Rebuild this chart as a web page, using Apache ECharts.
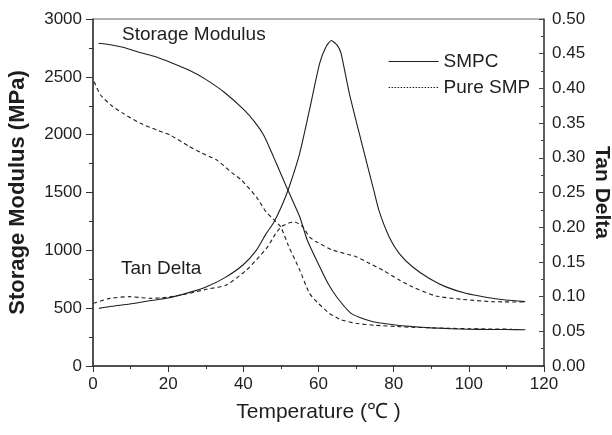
<!DOCTYPE html>
<html lang="en">
<head>
<meta charset="UTF-8">
<title></title>
<style>
    html, body { margin: 0; padding: 0; background: #fff; }
    #chart {
        width: 612px;
        height: 435px;
    }
</style>
</head>
<body>
<div id="chart"></div>
<script src="https://cdn.jsdelivr.net/npm/echarts@6/dist/echarts.min.js"></script>
<script>
    // temperatures (°C) and values
    var smpcModT = [1.5, 5, 8, 12, 16, 21, 26, 30, 35, 40, 43, 45.5, 48, 50, 52, 55, 57, 60, 62.5, 65, 68.5, 71, 74.5, 78, 81.5, 85, 90, 95, 100, 105, 110, 115];
    var smpcMod = [2790, 2775, 2755, 2715, 2680, 2620, 2550, 2478, 2365, 2220, 2110, 1990, 1810, 1660, 1510, 1290, 1090, 880, 715, 590, 460, 420, 383, 365, 350, 340, 330, 323, 318, 316, 315, 313];

    var pureModT = [0.3, 2, 5, 8, 12.5, 17, 20.5, 25.5, 29, 33, 37, 39.5, 43.5, 46, 48, 50, 52, 55, 57.6, 60, 62.9, 66, 70, 75, 81.5, 85, 90, 95, 100, 105, 111.5];
    var pureMod = [2458, 2343, 2250, 2184, 2100, 2040, 1997, 1900, 1840, 1780, 1670, 1608, 1460, 1334, 1270, 1200, 1040, 830, 628, 540, 455, 400, 369, 352, 340, 335, 330, 326, 322, 320, 318];

    var smpcTanT = [1.6, 5, 9.8, 15, 19.6, 25, 30.2, 35, 39.9, 43.5, 46, 48, 50, 52, 55, 57.6, 60.3, 62, 63.4, 65, 66, 68.2, 71.3, 74.9, 76.2, 78.8, 81.5, 85, 89.5, 93.9, 99.2, 104.5, 109.8, 115];
    var smpcTan = [0.083, 0.086, 0.0893, 0.094, 0.0975, 0.105, 0.1143, 0.127, 0.1455, 0.167, 0.19, 0.206, 0.228, 0.255, 0.3065, 0.369, 0.436, 0.46, 0.469, 0.462, 0.4506, 0.393, 0.3256, 0.249, 0.222, 0.186, 0.162, 0.143, 0.126, 0.114, 0.1047, 0.099, 0.095, 0.0927];

    var pureTanT = [0.1, 4.5, 9.8, 15.1, 19.6, 25, 30.2, 35.5, 40.8, 43.5, 46.5, 48.5, 50.1, 52.3, 53.6, 55.8, 57.6, 59.4, 63.8, 70, 73.5, 77.1, 81.5, 85, 91.2, 98.3, 106.3, 115];
    var pureTan = [0.0903, 0.0975, 0.0999, 0.0975, 0.099, 0.104, 0.1105, 0.1167, 0.138, 0.153, 0.172, 0.19, 0.2007, 0.2065, 0.2075, 0.2007, 0.186, 0.179, 0.167, 0.1575, 0.148, 0.138, 0.124, 0.114, 0.1009, 0.096, 0.0927, 0.0922];

    var legendNames = ['SMPC', 'Pure SMP'];

    function pairs(xs, ys) {
        var out = [];
        for (var i = 0; i < xs.length; i++) out.push([xs[i], ys[i]]);
        return out;
    }

    var ink = '#1e1e1e';
    var font = 'Liberation Sans, Arial, sans-serif';

    var myChart = echarts.init(document.getElementById('chart'));

    function curve(name, data, yIdx, dashed) {
        return {
            name: name,
            type: 'line',
            yAxisIndex: yIdx,
            data: data,
            symbol: 'none',
            smooth: 0.2,
            lineStyle: { color: ink, width: 1.1, type: dashed ? [4, 3] : 'solid' },
            itemStyle: { color: ink }
        };
    }

    var option = {
        animation: false,
        textStyle: { fontFamily: font, color: ink },
        grid: {
            left: 93, right: 68, top: 19, bottom: 69,
            outerBoundsMode: 'none',
            show: true, borderColor: '#666', borderWidth: 1
        },
        legend: {
            orient: 'vertical',
            left: 388,
            top: 52,
            padding: 0,
            itemWidth: 50,
            itemHeight: 14,
            itemGap: 7,
            itemStyle: { opacity: 0 },
            textStyle: { fontSize: 19, color: ink, fontFamily: font, lineHeight: 19 },
            data: [
                { name: legendNames[0], lineStyle: { color: ink, width: 1.2, type: 'solid' } },
                { name: legendNames[1], lineStyle: { color: ink, width: 1.2, type: [1.5, 1.5] } }
            ]
        },
        xAxis: {
            type: 'value',
            min: 0, max: 120, interval: 20,
            name: 'Temperature (\u2103 )',
            nameLocation: 'middle',
            nameGap: 36,
            nameTextStyle: { fontSize: 21, color: ink },
            axisLine: { lineStyle: { color: '#333', width: 1.5 } },
            axisTick: { inside: false, length: 6, lineStyle: { color: '#333' } },
            minorTick: { show: true, splitNumber: 2, length: 3, lineStyle: { color: '#333' } },
            axisLabel: { fontSize: 17, color: ink, margin: 10 },
            splitLine: { show: false }
        },
        yAxis: [{
            type: 'value',
            min: 0, max: 3000, interval: 500,
            name: 'Storage Modulus (MPa)',
            nameLocation: 'middle',
            nameGap: 64,
            nameTextStyle: { fontSize: 22, fontWeight: 'bold', color: ink },
            axisLine: { show: true, lineStyle: { color: '#333', width: 1.5 } },
            axisTick: { show: true, inside: false, length: 7, lineStyle: { color: '#333' } },
            minorTick: { show: true, splitNumber: 2, length: 4, lineStyle: { color: '#333' } },
            axisLabel: {
                fontSize: 17, color: ink, margin: 11,
                formatter: function (v) { return String(v); }
            },
            splitLine: { show: false }
        }, {
            type: 'value',
            position: 'right',
            min: 0, max: 0.5, interval: 0.05,
            name: 'Tan Delta',
            nameLocation: 'middle',
            nameRotate: -90,
            nameGap: 47,
            nameMoveOverlap: false,
            nameTextStyle: { fontSize: 21, fontWeight: 'bold', color: ink },
            axisLine: { show: true, lineStyle: { color: '#444', width: 1.5 } },
            axisTick: { show: true, inside: true, length: 5, lineStyle: { color: '#444' } },
            minorTick: { show: true, splitNumber: 2, length: 3, lineStyle: { color: '#444' } },
            axisLabel: {
                fontSize: 17, color: ink, margin: 8,
                formatter: function (v) { return v.toFixed(2); }
            },
            splitLine: { show: false }
        }],
        graphic: [
            { type: 'text', left: 122, top: 25, style: { text: 'Storage Modulus', fontSize: 19, fill: ink, fontFamily: font } },
            { type: 'text', left: 121, top: 259, style: { text: 'Tan Delta', fontSize: 19, fill: ink, fontFamily: font } }
        ],
        series: [
            curve(legendNames[0], pairs(smpcModT, smpcMod), 0, false),
            curve(legendNames[1], pairs(pureModT, pureMod), 0, true),
            curve(legendNames[0], pairs(smpcTanT, smpcTan), 1, false),
            curve(legendNames[1], pairs(pureTanT, pureTan), 1, true)
        ]
    };

    myChart.setOption(option);
</script>
</body>
</html>
